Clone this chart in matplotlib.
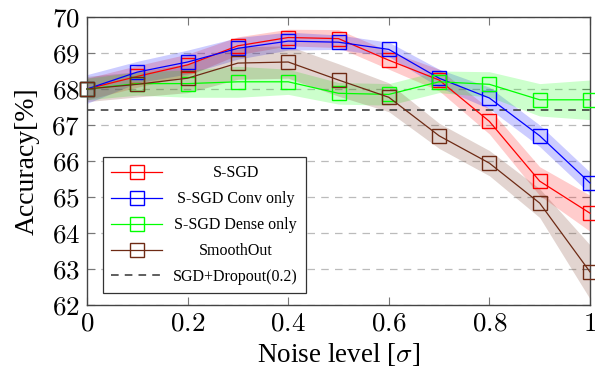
import numpy as np
import matplotlib
matplotlib.use("Agg")
import matplotlib.pyplot as plt
from matplotlib.offsetbox import VPacker

plt.rcParams['font.family'] = ['Liberation Serif', 'DejaVu Serif']
plt.rcParams['mathtext.fontset'] = 'cm'

noise = [0.0, 0.1, 0.2, 0.3, 0.4, 0.5, 0.6, 0.7, 0.8, 0.9, 1.0]

ssgd = [68.0, 68.35, 68.67, 69.2, 69.43, 69.4, 68.8, 68.25, 67.1, 65.44, 64.55]
ssgd_std = [0.3, 0.3, 0.3, 0.25, 0.23, 0.25, 0.25, 0.3, 0.35, 0.4, 0.5]

conv = [68.0, 68.47, 68.75, 69.13, 69.33, 69.3, 69.1, 68.3, 67.75, 66.7, 65.39]
conv_std = [0.4, 0.3, 0.33, 0.3, 0.25, 0.2, 0.2, 0.25, 0.3, 0.3, 0.3]

dense = [68.0, 68.15, 68.15, 68.2, 68.2, 67.88, 67.85, 68.2, 68.13, 67.7, 67.7]
dense_std = [0.3, 0.32, 0.38, 0.43, 0.35, 0.3, 0.3, 0.3, 0.35, 0.45, 0.55]

smooth = [68.0, 68.13, 68.3, 68.72, 68.75, 68.25, 67.77, 66.7, 65.94, 64.83, 62.92]
smooth_std = [0.35, 0.35, 0.4, 0.45, 0.45, 0.45, 0.4, 0.35, 0.35, 0.4, 0.75]

baseline = 67.42

labels = ["S-SGD", "S-SGD Conv only", "S-SGD Dense only", "SmoothOut"]
baseline_label = "SGD+Dropout(0.2)"
colors = ["#ff0000", "#0000ff", "#00ff00", "#6e2a14"]

xticks = [0, 0.2, 0.4, 0.6, 0.8, 1.0]
xticklabels = ["0", "0.2", "0.4", "0.6", "0.8", "1"]
yticks = list(range(62, 71))

fig = plt.figure(figsize=(5.95, 3.71), dpi=100)
ax = fig.add_axes([87/595, 1-305/371, (590-87)/595, (305-17)/371])

x = np.array(noise)
for ys, sd, lab, c in zip([ssgd, conv, dense, smooth],
                          [ssgd_std, conv_std, dense_std, smooth_std],
                          labels, colors):
    ys = np.array(ys); sd = np.array(sd)
    ax.fill_between(x, ys - sd, ys + sd, color=c, alpha=0.2, lw=0, zorder=2)
    ax.plot(x, ys, color=c, lw=0.9, marker='s', markersize=10,
            markerfacecolor='none', markeredgecolor=c, markeredgewidth=1.0,
            label=lab, zorder=3, clip_on=False)

ax.axhline(baseline, color='#333333', lw=1.1, ls=(0, (5, 4)),
           label=baseline_label, zorder=2.5)

ax.set_xlim(0, 1)
ax.set_ylim(62, 70)
ax.set_xticks(xticks)
ax.set_xticklabels([f"${t}$" for t in xticklabels])
ax.set_yticks(yticks)
ax.set_yticklabels([f"${t}$" for t in yticks])
ax.yaxis.grid(True, color='#bbbbbb', ls=(0, (6, 5)), lw=0.9)
ax.set_axisbelow(True)
ax.tick_params(direction='in', top=True, right=True, labelsize=19.5,
               length=6, width=0.8, color='#777777', pad=5)
for s in ax.spines.values():
    s.set_color('#444444')
    s.set_linewidth(1.0)

ax.set_xlabel(r"Noise level [$\sigma$]", fontsize=19.5, labelpad=3)
ax.set_ylabel("Accuracy[%]", fontsize=20, labelpad=8)

leg = ax.legend(loc='lower left', bbox_to_anchor=(16/503, 12/288), borderaxespad=0,
                fontsize=11.5, frameon=True, fancybox=False, edgecolor='#333333',
                framealpha=1, numpoints=1, handlelength=3.2, handletextpad=0.7,
                borderpad=0.5, labelspacing=0.62)
leg.get_frame().set_linewidth(0.9)

# center legend texts within their column (pgfplots style)
renderer = fig.canvas.get_renderer()
texts = leg.get_texts()
maxw = max(t.get_window_extent(renderer).width for t in texts)
for col in leg._legend_handle_box.get_children():
    for row in col.get_children():
        kids = row.get_children()
        handle_box, text_box = kids[0], kids[1]
        wrap = VPacker(children=[text_box], pad=0, sep=0, width=maxw, align='center')
        wrap.set_figure(fig)
        row._children = [handle_box, wrap]

fig.savefig("out.png", dpi=100)
